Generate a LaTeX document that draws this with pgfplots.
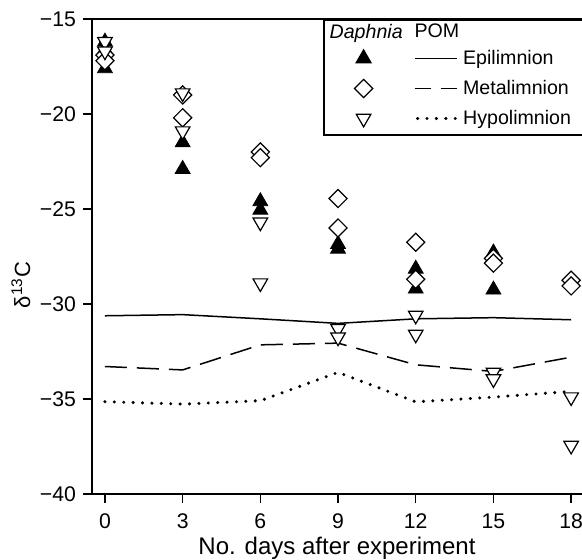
\documentclass[border=0pt]{standalone}
\usepackage{fontspec}
\setmainfont{Liberation Sans}
\usepackage{pgfplots}
\usepackage{pgfplotstable}
\pgfplotsset{compat=1.18}
\usetikzlibrary{calc}

% Daphnia values (markers)
\pgfplotstableread{
day d13C
0 -16.2
0 -16.6
0 -17.6
3 -21.5
3 -22.9
6 -24.6
6 -25.05
9 -26.85
9 -27.1
12 -28.15
12 -29.2
15 -27.3
15 -29.25
}\epidaph
\pgfplotstableread{
day d13C
0 -16.9
0 -17.2
3 -19.0
3 -20.2
6 -22.0
6 -22.3
9 -24.45
9 -26.0
12 -26.75
12 -28.7
15 -27.6
15 -27.85
18 -28.75
18 -29.05
}\metadaph
\pgfplotstableread{
day d13C
0 -16.2
0 -16.7
3 -18.9
3 -20.9
6 -25.7
6 -28.9
9 -31.3
9 -31.75
12 -30.6
12 -31.6
15 -33.6
15 -33.95
18 -34.9
18 -37.45
}\hypodaph

% POM values (lines)
\pgfplotstableread{
day epi meta hypo
0 -30.62 -33.29 -35.14
3 -30.56 -33.47 -35.27
6 -30.78 -32.15 -35.09
9 -31.02 -32.06 -33.60
12 -30.78 -33.20 -35.15
15 -30.72 -33.55 -34.90
18 -30.83 -32.80 -34.60
}\pom

\begin{document}
\begin{tikzpicture}
\begin{axis}[
    scale only axis,
    width=245pt, height=237.5pt,
    xmin=-0.5, xmax=18.42,
    ymin=-40, ymax=-15,
    axis x line*=bottom, axis y line*=left,
    axis line style={line width=0.9pt, -},
    xtick={0,3,...,18},
    ytick={-40,-35,-30,-25,-20,-15},
    yticklabels={−40,−35,−30,−25,−20,−15},
    tick align=outside,
    major tick length=4.5pt,
    tick style={line width=0.7pt, black},
    /pgf/number format/assume math mode=true,
    xticklabel style={font=\fontsize{10.6}{12}\selectfont, yshift=-2pt},
    yticklabel style={font=\fontsize{10.6}{12}\selectfont},
    xlabel={No. days after experiment},
    ylabel={δ\textsuperscript{13}C},
    every axis x label/.style={at={(rel axis cs:0.5,0)}, anchor=center, yshift=-27pt,
        font=\fontsize{12}{14}\selectfont},
    every axis y label/.style={at={(rel axis cs:-0.145,0.44)}, anchor=center, rotate=90,
        font=\fontsize{11}{13}\selectfont},
    legend cell align=left,
    legend style={at={(rel axis cs:0.471,1)}, anchor=north west, draw=black,
        line width=0.9pt, font=\fontsize{9.8}{12}\selectfont, row sep=2.4pt},
    clip=false,
]
\draw[line width=0.9pt] (rel axis cs:0,1) -- (rel axis cs:1,1);

\addplot[forget plot, black, line width=0.75pt] table[x=day, y=epi] {\pom};
\addplot[forget plot, black, line width=0.75pt, dash pattern=on 11pt off 5pt] table[x=day, y=meta] {\pom};
\addplot[forget plot, black, line width=1.7pt, line cap=round, dash pattern=on 0pt off 4.7pt] table[x=day, y=hypo] {\pom};

\addplot[forget plot, only marks, mark=triangle*, mark size=4.3pt, black] table[x=day, y=d13C] {\epidaph};
\addplot[forget plot, only marks, mark=square*, mark size=3.2pt,
    mark options={rotate=45, fill=white, draw=black, line width=0.6pt}] table[x=day, y=d13C] {\metadaph};
\addplot[forget plot, only marks, mark=triangle*, mark size=4.2pt,
    mark options={rotate=180, fill=white, draw=black, line width=0.6pt}] table[x=day, y=d13C] {\hypodaph};

\addlegendimage{legend image code/.code={
    \node[anchor=east, inner sep=0pt] at (20pt,0) {\textit{Daphnia}};
    \node[anchor=west, inner sep=0pt] at (25pt,0) {POM};}}
\addlegendentry{}
\addlegendimage{legend image code/.code={
    \draw[line width=0.75pt] (25.5pt,0) -- (46.5pt,0);
    \path plot[mark=triangle*, mark size=4.3pt, mark options={black, line width=0.6pt}] coordinates {(0pt,0pt)};}}
\addlegendentry{Epilimnion}
\addlegendimage{legend image code/.code={
    \draw[line width=0.75pt, dash pattern=on 8pt off 5pt] (25.5pt,0) -- (46.5pt,0);
    \path plot[mark=square*, mark size=3.2pt, mark options={rotate=45, fill=white, draw=black, line width=0.6pt}] coordinates {(0pt,0pt)};}}
\addlegendentry{Metalimnion}
\addlegendimage{legend image code/.code={
    \draw[line width=1.7pt, line cap=round, dash pattern=on 0pt off 4.7pt] (27pt,0) -- (46.5pt,0);
    \path plot[mark=triangle*, mark size=4.2pt, mark options={rotate=180, fill=white, draw=black, line width=0.6pt}] coordinates {(0pt,0pt)};}}
\addlegendentry{Hypolimnion\hspace*{8pt}}
\end{axis}
\pgfresetboundingbox
\path[use as bounding box] ($(current axis.south west)+(-46pt,-33pt)$) rectangle ($(current axis.north east)+(0,9.5pt)$);
\end{tikzpicture}
\end{document}
